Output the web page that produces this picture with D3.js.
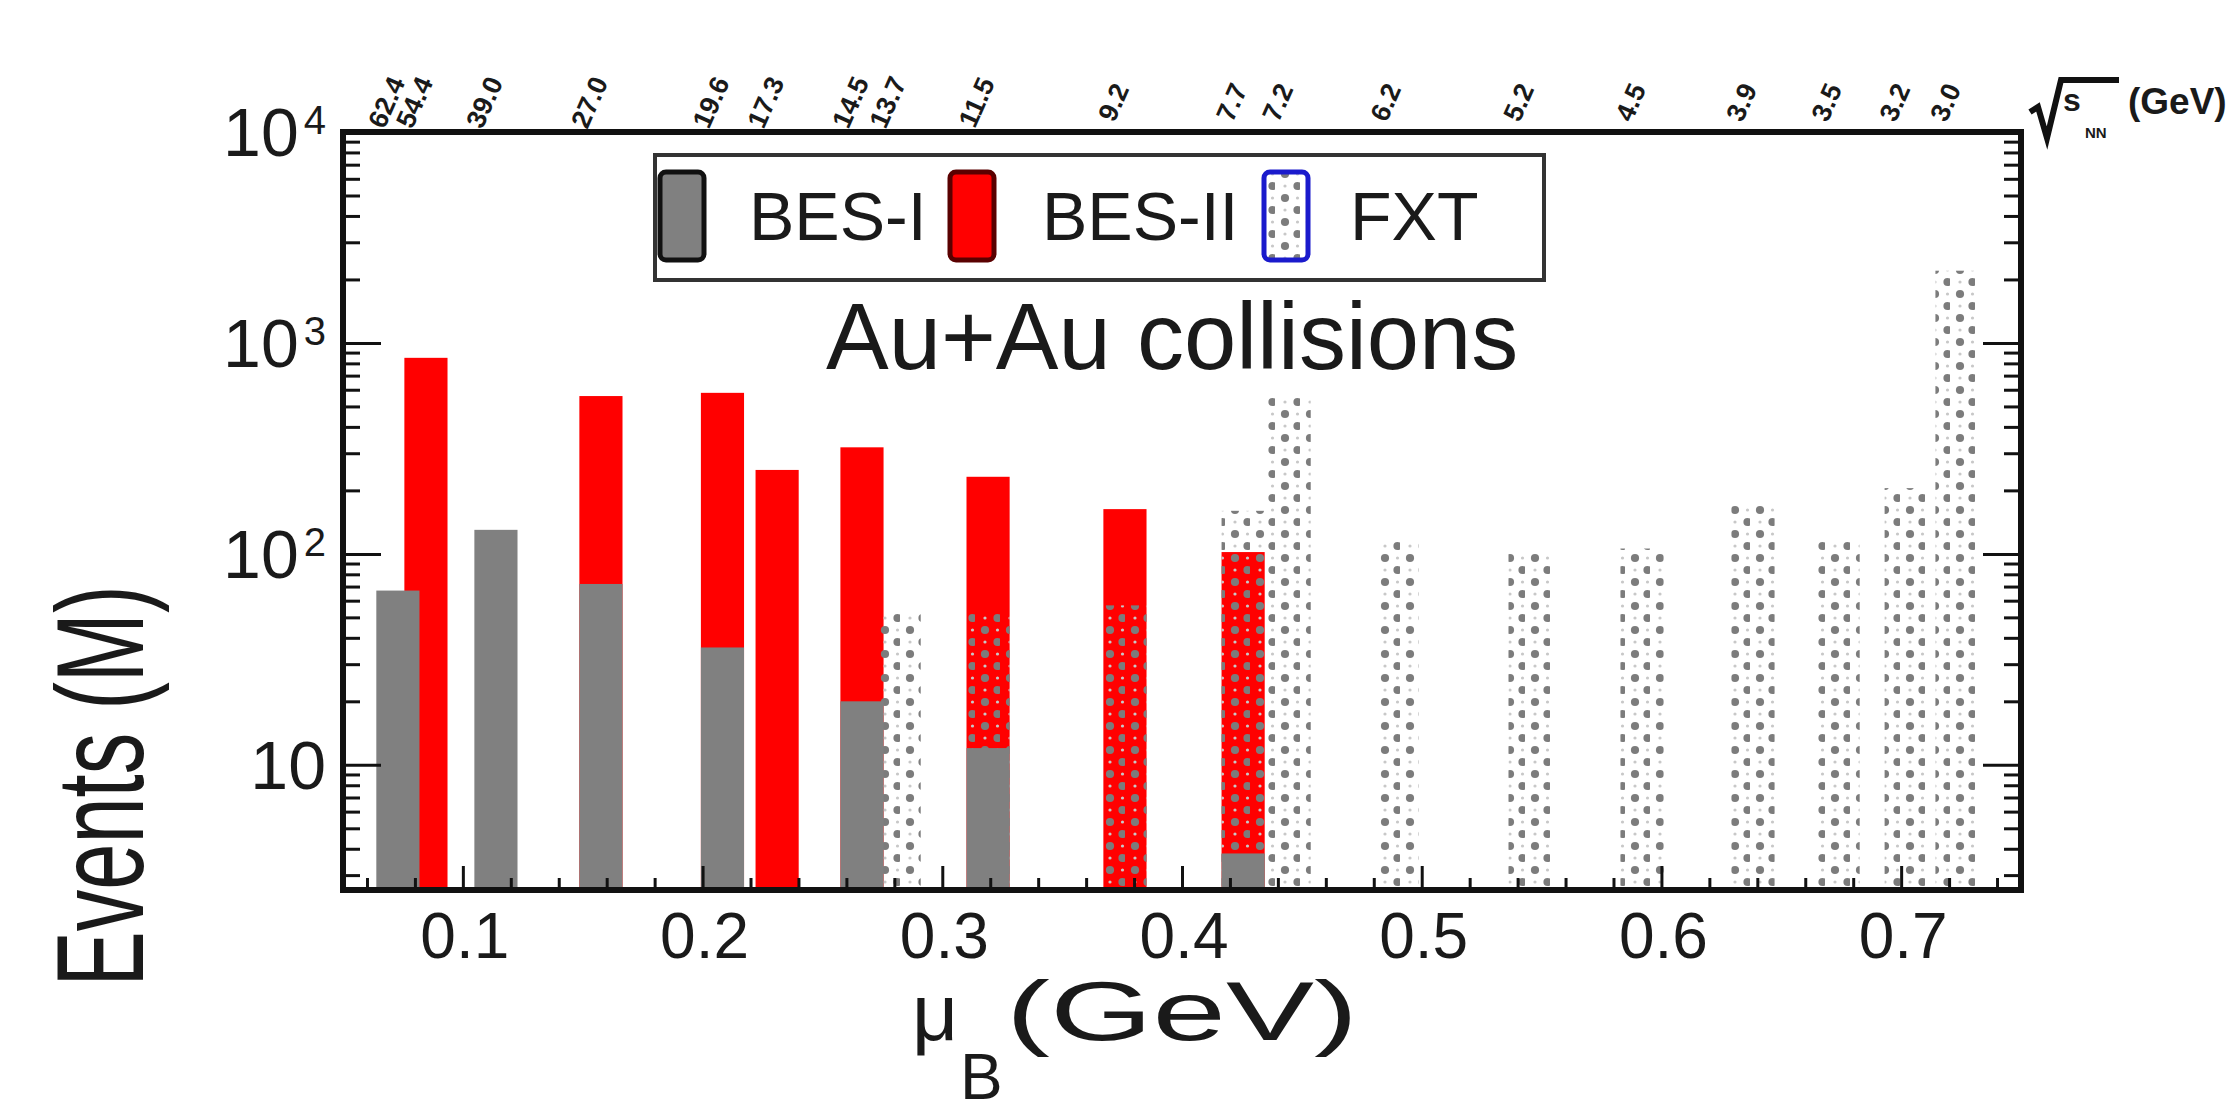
<!DOCTYPE html>
<html><head><meta charset="utf-8">
<script src="https://cdn.jsdelivr.net/npm/d3@7"></script>
<style>
body{margin:0;background:#fff}
svg{display:block}
text{font-family:"Liberation Sans",Arial,Helvetica,sans-serif;fill:#1a1a1a}
</style>
</head><body>
<svg id="chart" width="2240" height="1114"></svg>
<script>
// ---- data ----
const energyLabels = ["62.4","54.4","39.0","27.0","19.6","17.3","14.5","13.7","11.5","9.2","7.7","7.2","6.2","5.2","4.5","3.9","3.5","3.2","3.0"];
const muB   = [0.0729,0.0846,0.1138,0.1576,0.2083,0.2311,0.2665,0.282,0.3191,0.3762,0.4255,0.4447,0.4897,0.5452,0.5919,0.6382,0.6737,0.7021,0.7233];
const besI  = [67,null,130,72,36,null,20,null,12,null,3.8,null,null,null,null,null,null,null,null];
const besII = [null,850,null,560,580,250,320,null,232,163,102,null,null,null,null,null,null,null,null];
const fxt   = [null,null,null,null,null,null,null,52,53,57,160,570,118,100,106,172,117,205,2200];
const xTickValues = [0.1,0.2,0.3,0.4,0.5,0.6,0.7];
const yTickValues = [10,100,1000,10000];
const yTickExponents = ["","2","3","4"];
const legendLabels = ["BES-I","BES-II","FXT"];

// ---- layout ----
const plot = {x0:343, x1:2021, y0:132, y1:890};
const barW = 0.018;

const svg = d3.select("#chart");
const x = d3.scaleLinear().domain([0.05,0.75]).range([plot.x0, plot.x1]);
const y = d3.scaleLog().domain([2.55,10000]).range([plot.y1, plot.y0]);

const defs = svg.append("defs");
const pat = defs.append("pattern").attr("id","dots").attr("patternUnits","userSpaceOnUse")
  .attr("width",25).attr("height",24);
pat.append("circle").attr("cx",10).attr("cy",6).attr("r",4.1).attr("fill","#7c7c7c");
pat.append("circle").attr("cx",22.5).attr("cy",18).attr("r",4.1).attr("fill","#7c7c7c");
pat.append("circle").attr("cx",22.5).attr("cy",6).attr("r",1.6).attr("fill","#c8c8c8");
pat.append("circle").attr("cx",10).attr("cy",18).attr("r",1.6).attr("fill","#c8c8c8");
defs.append("clipPath").attr("id","clip").append("rect")
  .attr("x",plot.x0).attr("y",plot.y0).attr("width",plot.x1-plot.x0).attr("height",plot.y1-plot.y0);

const idx = d3.range(energyLabels.length);
const bw = x(0.05+barW) - x(0.05);
const g = svg.append("g").attr("clip-path","url(#clip)");

function bars(values, cls, fill){
  g.selectAll("rect."+cls).data(idx.filter(i=>values[i]!=null)).join("rect")
    .attr("class",cls)
    .attr("x", i=>x(muB[i])-bw/2).attr("width",bw)
    .attr("y", i=>y(values[i])).attr("height", i=>plot.y1 - y(values[i]))
    .attr("fill", fill);
}
bars(besII,"b2","#ff0000");
bars(fxt,"fx","url(#dots)");
bars(besI,"b1","#808080");

// ---- axes (ticks inward) ----
const xMinor = d3.range(3,38).map(i=>+(i*0.02).toFixed(2)).filter(v=>Math.abs(v*10-Math.round(v*10))>1e-6);
svg.append("g").attr("transform",`translate(0,${plot.y1})`)
  .call(d3.axisBottom(x).tickValues(xTickValues).tickSize(-24).tickFormat(""))
  .call(a=>a.select(".domain").remove());
svg.append("g").attr("transform",`translate(0,${plot.y1})`)
  .call(d3.axisBottom(x).tickValues(xMinor).tickSize(-12).tickFormat(""))
  .call(a=>a.select(".domain").remove());

const yMinor = [];
[1,10,100,1000].forEach(d=>{for(let k=2;k<=9;k++){const v=d*k; if(v>2.55 && v<10000) yMinor.push(v);}});
[[d3.axisLeft, plot.x0],[d3.axisRight, plot.x1]].forEach(([ax,pos])=>{
  svg.append("g").attr("transform",`translate(${pos},0)`)
    .call(ax(y).tickValues(yTickValues).tickSize(-38).tickFormat(""))
    .call(a=>a.select(".domain").remove());
  svg.append("g").attr("transform",`translate(${pos},0)`)
    .call(ax(y).tickValues(yMinor).tickSize(-17).tickFormat(""))
    .call(a=>a.select(".domain").remove());
});
svg.selectAll(".tick line").attr("stroke","#111").attr("stroke-width",3);

// frame
svg.append("rect").attr("x",plot.x0).attr("y",plot.y0)
  .attr("width",plot.x1-plot.x0).attr("height",plot.y1-plot.y0)
  .attr("fill","none").attr("stroke","#111").attr("stroke-width",6);

// x tick labels
svg.append("g").selectAll("text").data(xTickValues).join("text")
  .attr("x",d=>x(d)+2).attr("y",958).attr("text-anchor","middle")
  .attr("font-size",64).text(d=>d.toFixed(1));

// y tick labels
const yl = svg.append("g").selectAll("text").data(yTickValues).join("text")
  .attr("x",326)
  .attr("y",d=>y(d)+24).attr("text-anchor","end").attr("font-size",68);
yl.append("tspan").text("10");
yl.filter((d,i)=>yTickExponents[i]!=="").append("tspan")
  .attr("dx",5).attr("dy",-22).attr("font-size",40).text((d)=>yTickExponents[yTickValues.indexOf(d)]);

// top energy labels
svg.append("g").selectAll("text").data(idx).join("text")
  .attr("transform",i=>`translate(${x(muB[i])-3},106) rotate(-66)`)
  .attr("text-anchor","middle").attr("font-size",27).attr("font-weight","bold")
  .attr("fill","#333").text(i=>energyLabels[i]);

// sqrt(s_NN) (GeV)
const sq = svg.append("g");
sq.append("path").attr("d","M2030,112 L2038,107 L2047,138 L2061,80 L2119,80")
  .attr("fill","none").attr("stroke","#111").attr("stroke-width",6).attr("stroke-linejoin","miter");
sq.append("text").attr("x",2063).attr("y",111).attr("font-size",32).attr("font-weight","bold").text("s");
sq.append("text").attr("x",2085).attr("y",138).attr("font-size",15).attr("font-weight","bold").text("NN");
sq.append("text").attr("x",2128).attr("y",114).attr("font-size",37).attr("font-weight","bold").text("(GeV)");

// axis titles
svg.append("text").attr("transform","translate(143,786) rotate(-90) scale(1,1.5)")
  .attr("text-anchor","middle").attr("font-size",83).text("Events (M)");
svg.append("text").attr("x",912).attr("y",1040).attr("font-size",80).text("μ");
svg.append("text").attr("x",960).attr("y",1099).attr("font-size",64).text("B");
svg.append("text").attr("x",1006).attr("y",1040).attr("font-size",84)
  .attr("textLength",352).attr("lengthAdjust","spacingAndGlyphs").text("(GeV)");

// Title
svg.append("text").attr("x",826).attr("y",369).attr("font-size",94).text("Au+Au collisions");

// legend
const lg = svg.append("g");
lg.append("rect").attr("x",655).attr("y",155).attr("width",889).attr("height",125)
  .attr("fill","#fff").attr("stroke","#333").attr("stroke-width",4);
const sw = [
  {x:658, fill:"#808080", stroke:"#111"},
  {x:948, fill:"#ff0000", stroke:"#5a0000"},
  {x:1262, fill:"url(#dots)", stroke:"#1a1acc"}
];
lg.selectAll("rect.sw").data(sw).join("rect").attr("class","sw")
  .attr("x",d=>d.x+2).attr("y",172).attr("width",44).attr("height",88).attr("rx",6)
  .attr("fill",d=>d.fill).attr("stroke",d=>d.stroke).attr("stroke-width",5);
const lx = [749,1042,1350];
lg.selectAll("text").data(legendLabels).join("text")
  .attr("x",(d,i)=>lx[i]).attr("y",240).attr("font-size",68).attr("fill","#222").text(d=>d);
</script>
</body></html>
